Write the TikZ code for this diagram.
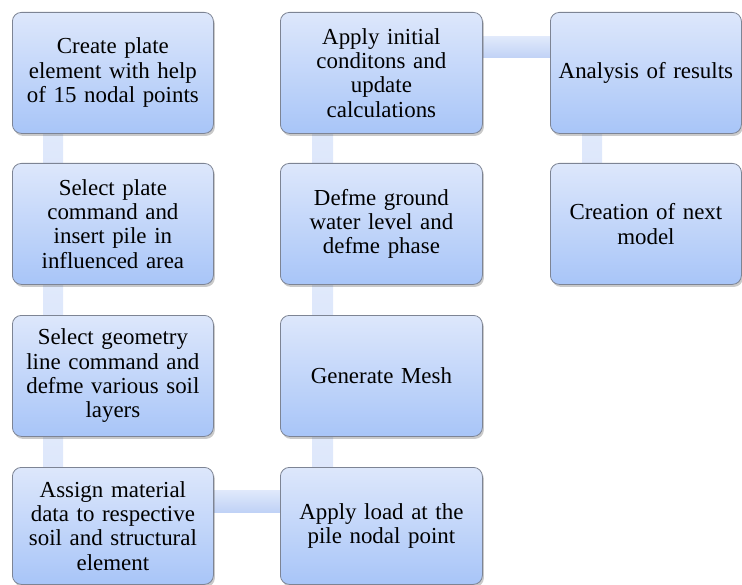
\documentclass[tikz,border=0pt]{standalone}
\usepackage{fontspec}
\setmainfont{Liberation Serif}
\usetikzlibrary{shadows,calc}
\pgfdeclarelayer{background}
\pgfsetlayers{background,main}
\definecolor{boxtop}{RGB}{221,231,251}
\definecolor{boxbot}{RGB}{168,197,248}
\definecolor{boxedge}{RGB}{125,132,148}
\definecolor{bartop}{RGB}{224,233,251}
\definecolor{barbot}{RGB}{192,210,246}
\tikzset{
 stepbox/.style={draw=boxedge, line width=0.8bp, rounded corners=9bp,
   top color=boxtop, bottom color=boxbot, anchor=north west,
   minimum width=201bp, minimum height=121bp, text width=195bp, align=center,
   inner sep=0pt, font=\fontsize{23}{24.5}\selectfont,
   drop shadow={shadow xshift=1.5bp, shadow yshift=-2.5bp, opacity=0.35, fill=black!60}},
 barv/.style={top color=bartop, bottom color=bartop!92!barbot},
 barh/.style={top color=bartop, bottom color=barbot},
}
\begin{document}
\begin{tikzpicture}[x=1bp,y=-1bp]
\useasboundingbox (0,0) rectangle (742,585);
\node[stepbox] (a1) at (12,12) {Create plate\\element with help\\of 15 nodal points};
\node[stepbox] (a2) at (12,163) {Select plate\\command and\\insert pile in\\influenced area};
\node[stepbox] (a3) at (12,315) {Select geometry\\line command and\\defme various soil\\layers};
\node[stepbox, minimum height=117bp] (a4) at (12,467) {Assign material\\data to respective\\soil and structural\\element};
\node[stepbox, minimum width=202bp] (b1) at (280,12) {Apply initial\\conditons and\\update\\calculations};
\node[stepbox, minimum width=202bp] (b2) at (280,163) {Defme ground\\water level and\\defme phase};
\node[stepbox, minimum width=202bp] (b3) at (280,315) {Generate Mesh};
\node[stepbox, minimum width=202bp, minimum height=117bp] (b4) at (280,467) {Apply load at the\\pile nodal point};
\node[stepbox, minimum width=191bp, text width=186bp] (c1) at (550,12) {Analysis of results};
\node[stepbox, minimum width=191bp, text width=186bp] (c2) at (550,163) {Creation of next\\model};
\begin{pgfonlayer}{background}
\shade[barv] ($(a1.south west)+(31,0)$) rectangle ($(a2.north west)+(51,0)$);
\shade[barv] ($(a2.south west)+(31,0)$) rectangle ($(a3.north west)+(51,0)$);
\shade[barv] ($(a3.south west)+(31,0)$) rectangle ($(a4.north west)+(51,0)$);
\shade[barh] ($(a4.north east)+(0,23)$) rectangle ($(b4.north west)+(0,45)$);
\shade[barv] ($(b4.north west)+(32,0)$) rectangle ($(b3.south west)+(53,0)$);
\shade[barv] ($(b3.north west)+(32,0)$) rectangle ($(b2.south west)+(53,0)$);
\shade[barv] ($(b2.north west)+(32,0)$) rectangle ($(b1.south west)+(53,0)$);
\shade[barh] ($(b1.north east)+(0,25)$) rectangle ($(c1.north west)+(0,46)$);
\shade[barv] ($(c1.south west)+(32,0)$) rectangle ($(c2.north west)+(52,0)$);
\end{pgfonlayer}
\end{tikzpicture}
\end{document}
